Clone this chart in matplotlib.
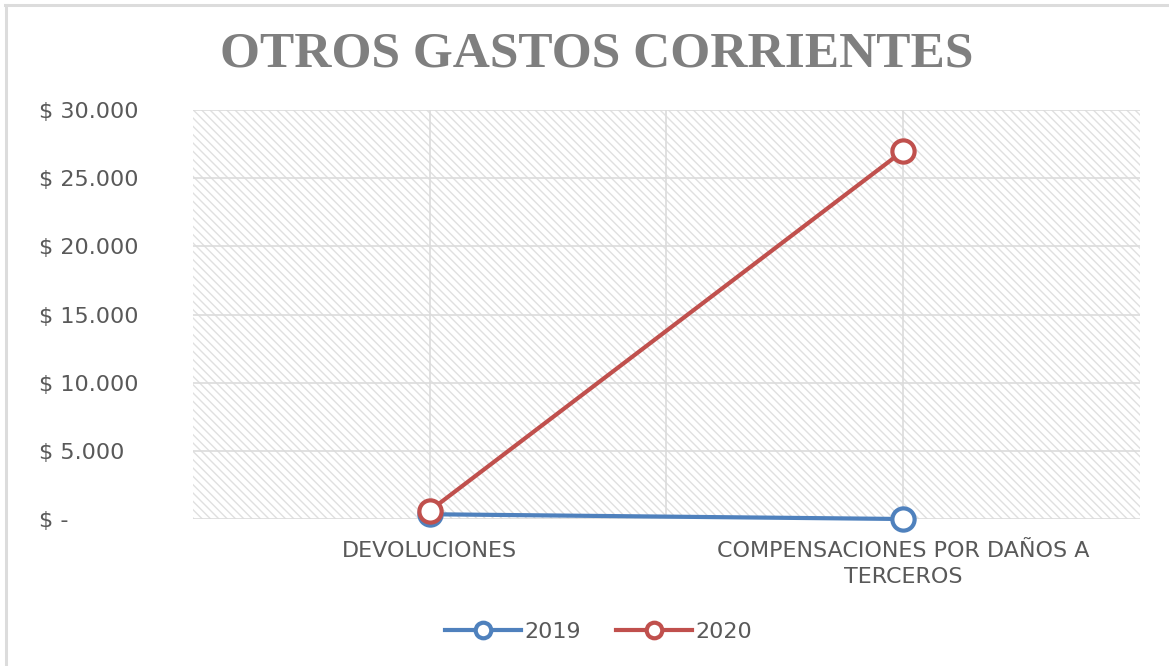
import matplotlib.pyplot as plt
from matplotlib.patches import Rectangle
from matplotlib.lines import Line2D
from matplotlib.ticker import FixedLocator

# data
categories = ["DEVOLUCIONES", "COMPENSACIONES POR DAÑOS A\nTERCEROS"]
series_names = ["2019", "2020"]
values_2019 = [350, 0]
values_2020 = [600, 27000]
y_ticks = [0, 5000, 10000, 15000, 20000, 25000, 30000]
y_labels = ["$ -", "$ 5.000", "$ 10.000", "$ 15.000", "$ 20.000", "$ 25.000", "$ 30.000"]

blue = "#4F81BD"
red = "#C0504D"
text_gray = "#595959"

plt.rcParams['font.family'] = ['DejaVu Sans']
plt.rcParams['hatch.linewidth'] = 1.0

fig = plt.figure(figsize=(11.69, 6.66), dpi=100)
# outer chart frame (only top and left edges are visible)
fig.add_artist(Line2D([0.0055, 0.0055], [0.0, 0.9925], transform=fig.transFigure,
                      color="#dcdcdc", linewidth=2.2))
fig.add_artist(Line2D([0.0045, 1.0], [0.9925, 0.9925], transform=fig.transFigure,
                      color="#dcdcdc", linewidth=2.2))

ax = fig.add_axes([0.165, 0.2207, 0.81, 0.6141])
x = list(range(len(categories)))

# hatched plot area
ax.add_patch(Rectangle((0, 0), 1, 1, transform=ax.transAxes, facecolor="white",
                       edgecolor="#e0e0e0", hatch="\\\\\\\\", linewidth=0, zorder=0))

for v in [0, 0.5, 1]:
    ax.axvline(v, color="#dcdcdc", linewidth=1.2, zorder=1)
for v in y_ticks:
    ax.axhline(v, color="#dcdcdc", linewidth=1.2, zorder=1)

ax.plot(x, values_2019, color=blue, linewidth=3, marker="o", markersize=16,
        markerfacecolor="white", markeredgewidth=3, label=series_names[0],
        zorder=3, clip_on=False)
ax.plot(x, values_2020, color=red, linewidth=3, marker="o", markersize=16,
        markerfacecolor="white", markeredgewidth=3, label=series_names[1],
        zorder=4, clip_on=False)

ax.set_xlim(-0.5, 1.5)
ax.set_ylim(0, 30000)
ax.yaxis.set_major_locator(FixedLocator(y_ticks))
ax.set_yticklabels(y_labels, fontsize=16, color=text_gray)
ax.set_xticks(x)
ax.set_xticklabels(categories, fontsize=16, color=text_gray, linespacing=1.35)
ax.tick_params(axis="x", length=0, pad=16)
ax.tick_params(axis="y", length=0, pad=111)
for lab in ax.get_yticklabels():
    lab.set_horizontalalignment("left")
for s in ax.spines.values():
    s.set_visible(False)

fig.text(0.51, 0.918, "OTROS GASTOS CORRIENTES", ha="center", va="center",
         fontsize=37, fontweight="bold", color="#7f7f7f", family="Liberation Serif")

fig.legend(loc="center", bbox_to_anchor=(0.512, 0.051), ncol=2, frameon=False,
           fontsize=16, labelcolor=text_gray, handlelength=3.4, columnspacing=1.6,
           handletextpad=0.15, markerscale=0.7)

fig.savefig("out.png", dpi=100)
